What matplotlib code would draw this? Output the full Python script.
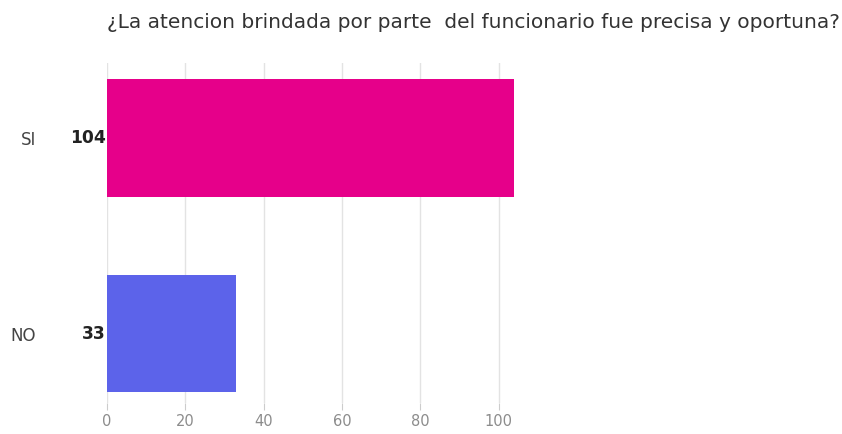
import matplotlib
matplotlib.use("Agg")
import matplotlib.pyplot as plt

categories = ["NO", "SI"]
values = [33, 104]
colors = ["#5C63EA", "#E6008A"]
ticks = [0, 20, 40, 60, 80, 100]
title = "¿La atencion brindada por parte  del funcionario fue precisa y oportuna?"

fig = plt.figure(figsize=(8.42, 4.34), dpi=100)
ax = fig.add_axes([107 / 842, 1 - 403 / 434, 423 / 842, 340 / 434])

ypos = list(range(len(categories)))
ax.barh(ypos, values, height=0.6, color=colors, zorder=2)

ax.set_xlim(0, 108)
ax.set_ylim(-0.355, 1.384)
ax.set_xticks(ticks)
ax.set_xticklabels([str(t) for t in ticks], color="#8c8c8c", fontsize=10.5)
ax.tick_params(axis="x", length=5, color="#cccccc", pad=3)
ax.grid(axis="x", color="#e3e3e3", linewidth=1, zorder=0)
for s in ax.spines.values():
    s.set_visible(False)

ax.set_yticks(ypos)
ax.set_yticklabels(categories, fontsize=12, color="#444444")
ax.tick_params(axis="y", length=0, pad=51)

for y, v in zip(ypos, values):
    ax.annotate(str(v), xy=(0, y), xytext=(-1, 0), textcoords="offset points",
                ha="right", va="center", fontsize=12.3, fontweight="bold", color="#222222")

ax.set_title(title, loc="left", fontsize=14.5, color="#333333", pad=25)

fig.savefig("out.png", dpi=100)
